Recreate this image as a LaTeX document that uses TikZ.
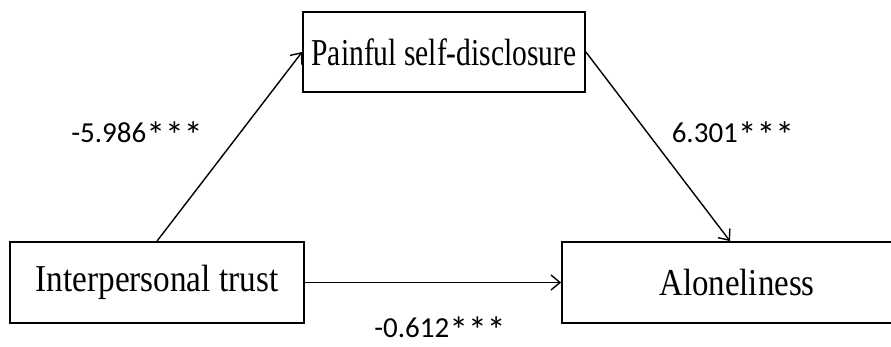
\documentclass[tikz,border=0pt]{standalone}
\usepackage{fontspec}
\usepackage{graphicx}
\setmainfont{Liberation Serif}
\newfontfamily\labfont{Carlito}
\usetikzlibrary{arrows.meta}
\newcommand{\bigstar}{\raisebox{-0.2em}{\scalebox{1.3}{*}}}
\newcommand{\sigstars}{\bigstar\bigstar\bigstar}
\begin{document}
\begin{tikzpicture}[x=1pt,y=1pt,
  varbox/.style={draw=black, line width=1.8pt, rectangle, inner sep=0pt, font=\fontsize{38}{40}\selectfont},
  path/.style={draw=black, line width=1.4pt, -{Straight Barb[length=9pt,width=15pt,line width=1.4pt]}},
  coef/.style={font=\labfont\fontsize{29}{31}\selectfont, inner sep=0pt}]
\clip (0,0) rectangle (891,346);
\fill[white] (0,0) rectangle (891,346);
\node[varbox, minimum width=294pt, minimum height=81pt] (trust) at (157,63.5) {\scalebox{0.874}[1]{Interpersonal trust}};
\node[varbox, minimum width=282pt, minimum height=80pt] (pain) at (444,294) {\scalebox{0.777}[1]{Painful self-disclosure}};
\node[varbox, minimum width=350pt, minimum height=81pt] (alone) at (737,63.5) {\scalebox{0.866}[1]{Aloneliness}};
\coordinate (aloneTop) at ([xshift=-7pt]alone.north);
\draw[path] (trust.north) -- (pain.west);
\draw[path] (pain.east) -- (aloneTop);
\draw[path] (trust.east) -- (alone.west);
\node[coef] (a) at (137,211) {-5.986\sigstars};
\node[coef] (b) at (733,211) {6.301\sigstars};
\node[coef] (c) at (440,16) {-0.612\sigstars};
\end{tikzpicture}
\end{document}
